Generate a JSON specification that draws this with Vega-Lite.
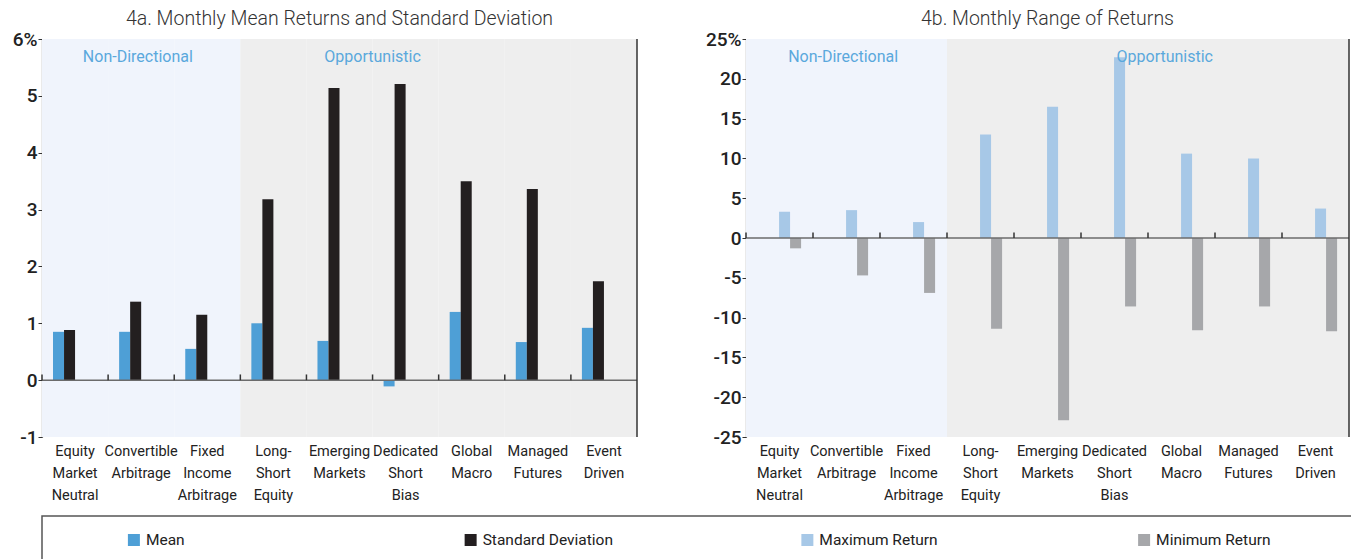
{
  "$schema": "https://vega.github.io/schema/vega-lite/v6.json",
  "padding": {"left": 12, "top": 8, "right": 0, "bottom": 0},
  "spacing": 13,
  "config": {
    "view": {"stroke": null},
    "font": "Roboto",
    "axis": {"labelFont": "Roboto", "labelColor": "#222", "title": null, "grid": false, "labelOverlap": false, "labelFlush": false},
    "title": {"font": "Roboto", "fontWeight": 300, "fontSize": 19.5, "color": "#333", "offset": 1}
  },
  "datasets": {
    "cats": [
      {"cat": "Equity Market Neutral", "region": "Non-Directional"},
      {"cat": "Convertible Arbitrage", "region": "Non-Directional"},
      {"cat": "Fixed Income Arbitrage", "region": "Non-Directional"},
      {"cat": "Long-Short Equity", "region": "Opportunistic"},
      {"cat": "Emerging Markets", "region": "Opportunistic"},
      {"cat": "Dedicated Short Bias", "region": "Opportunistic"},
      {"cat": "Global Macro", "region": "Opportunistic"},
      {"cat": "Managed Futures", "region": "Opportunistic"},
      {"cat": "Event Driven", "region": "Opportunistic"}
    ],
    "a": [
      {"cat": "Equity Market Neutral", "series": "Mean", "value": 0.85},
      {"cat": "Convertible Arbitrage", "series": "Mean", "value": 0.85},
      {"cat": "Fixed Income Arbitrage", "series": "Mean", "value": 0.55},
      {"cat": "Long-Short Equity", "series": "Mean", "value": 1.0},
      {"cat": "Emerging Markets", "series": "Mean", "value": 0.69},
      {"cat": "Dedicated Short Bias", "series": "Mean", "value": -0.11},
      {"cat": "Global Macro", "series": "Mean", "value": 1.2},
      {"cat": "Managed Futures", "series": "Mean", "value": 0.67},
      {"cat": "Event Driven", "series": "Mean", "value": 0.92},
      {"cat": "Equity Market Neutral", "series": "Standard Deviation", "value": 0.88},
      {"cat": "Convertible Arbitrage", "series": "Standard Deviation", "value": 1.38},
      {"cat": "Fixed Income Arbitrage", "series": "Standard Deviation", "value": 1.15},
      {"cat": "Long-Short Equity", "series": "Standard Deviation", "value": 3.18},
      {"cat": "Emerging Markets", "series": "Standard Deviation", "value": 5.14},
      {"cat": "Dedicated Short Bias", "series": "Standard Deviation", "value": 5.21},
      {"cat": "Global Macro", "series": "Standard Deviation", "value": 3.5},
      {"cat": "Managed Futures", "series": "Standard Deviation", "value": 3.36},
      {"cat": "Event Driven", "series": "Standard Deviation", "value": 1.74}
    ],
    "b": [
      {"cat": "Equity Market Neutral", "series": "Maximum Return", "value": 3.3},
      {"cat": "Convertible Arbitrage", "series": "Maximum Return", "value": 3.5},
      {"cat": "Fixed Income Arbitrage", "series": "Maximum Return", "value": 2.0},
      {"cat": "Long-Short Equity", "series": "Maximum Return", "value": 13.0},
      {"cat": "Emerging Markets", "series": "Maximum Return", "value": 16.5},
      {"cat": "Dedicated Short Bias", "series": "Maximum Return", "value": 22.7},
      {"cat": "Global Macro", "series": "Maximum Return", "value": 10.6},
      {"cat": "Managed Futures", "series": "Maximum Return", "value": 10.0},
      {"cat": "Event Driven", "series": "Maximum Return", "value": 3.7},
      {"cat": "Equity Market Neutral", "series": "Minimum Return", "value": -1.3},
      {"cat": "Convertible Arbitrage", "series": "Minimum Return", "value": -4.7},
      {"cat": "Fixed Income Arbitrage", "series": "Minimum Return", "value": -6.9},
      {"cat": "Long-Short Equity", "series": "Minimum Return", "value": -11.4},
      {"cat": "Emerging Markets", "series": "Minimum Return", "value": -22.9},
      {"cat": "Dedicated Short Bias", "series": "Minimum Return", "value": -8.6},
      {"cat": "Global Macro", "series": "Minimum Return", "value": -11.6},
      {"cat": "Managed Futures", "series": "Minimum Return", "value": -8.6},
      {"cat": "Event Driven", "series": "Minimum Return", "value": -11.7}
    ],
    "legend": [
      {"series": "Mean"},
      {"series": "Standard Deviation"},
      {"series": "Maximum Return"},
      {"series": "Minimum Return"}
    ]
  },
  "vconcat": [
    {
      "hconcat": [
        {
          "title": "4a. Monthly Mean Returns and Standard Deviation",
          "width": 595,
          "height": 398,
          "resolve": {"scale": {"color": "independent"}},
          "encoding": {
            "x": {"field": "cat", "type": "nominal", "sort": null,
              "scale": {"domain": ["Equity Market Neutral","Convertible Arbitrage","Fixed Income Arbitrage","Long-Short Equity","Emerging Markets","Dedicated Short Bias","Global Macro","Managed Futures","Event Driven"], "paddingInner": 0, "paddingOuter": 0},
              "axis": {"labelAngle": 0, "ticks": false, "domain": false, "labelPadding": 7, "labelFontSize": 14.5, "labelLineHeight": 22, "labelBaseline": "top", "labelExpr": "split(replace(datum.label, 'Long-Short', 'Long- Short'), ' ')"}}
          },
          "layer": [
            {
              "data": {"name": "cats"},
              "mark": {"type": "bar", "width": {"band": 1}},
              "encoding": {
                "y": {"datum": 6, "type": "quantitative", "scale": {"domain": [-1, 6], "nice": false},
                  "axis": {"values": [-1, 0, 1, 2, 3, 4, 5, 6], "tickCount": 20, "labelExpr": "datum.value == 6 ? '6%' : '' + datum.value", "labelOverlap": false, "labelFlush": false, "tickSize": 4, "tickColor": "#333", "domainColor": "#333", "domainWidth": 1.2, "labelFontSize": 19, "labelFontWeight": 500, "labelPadding": 1}},
                "y2": {"datum": -1},
                "color": {"field": "region", "type": "nominal", "scale": {"domain": ["Non-Directional", "Opportunistic"], "range": ["#f0f4fc", "#eeeeee"]}, "legend": null}
              }
            },
            {
              "data": {"name": "a"},
              "mark": {"type": "bar"},
              "encoding": {
                "xOffset": {"field": "series", "type": "nominal", "scale": {"domain": ["Mean", "Standard Deviation"], "paddingInner": 0, "paddingOuter": 2}},
                "y": {"field": "value", "type": "quantitative"},
                "color": {"field": "series", "type": "nominal", "scale": {"domain": ["Mean", "Standard Deviation"], "range": ["#4e9fd6", "#231f20"]}, "legend": null}
              }
            },
            {
              "data": {"values": [{}]},
              "mark": {"type": "rule", "color": "#6b6b6b", "strokeWidth": 1.5},
              "encoding": {"x": null, "y": {"datum": 0, "type": "quantitative"}}
            },
            {
              "data": {"name": "cats"},
              "mark": {"type": "rule", "color": "#333", "strokeWidth": 1.5},
              "encoding": {
                "x": {"field": "cat", "type": "nominal", "sort": null, "bandPosition": 0},
                "y": {"datum": 0, "type": "quantitative"},
                "y2": {"datum": 0.1}
              }
            },
            {
              "data": {"name": "cats"},
              "transform": [{"filter": "datum.cat == 'Event Driven'"}],
              "mark": {"type": "rule", "color": "#333", "strokeWidth": 1.5},
              "encoding": {
                "x": {"field": "cat", "type": "nominal", "sort": null, "bandPosition": 1},
                "y": {"datum": 6, "type": "quantitative"},
                "y2": {"datum": -1}
              }
            },
            {
              "data": {"values": [{"label": "Non-Directional", "cat": "Convertible Arbitrage"}]},
              "mark": {"type": "text", "color": "#5aa8dc", "fontSize": 16, "dy": 18, "baseline": "middle"},
              "encoding": {
                "x": {"field": "cat", "type": "nominal", "sort": null, "bandPosition": 0.45},
                "y": {"datum": 6, "type": "quantitative"},
                "text": {"field": "label"}
              }
            },
            {
              "data": {"values": [{"label": "Opportunistic", "cat": "Dedicated Short Bias"}]},
              "mark": {"type": "text", "color": "#5aa8dc", "fontSize": 16, "dy": 18, "baseline": "middle"},
              "encoding": {
                "x": {"field": "cat", "type": "nominal", "sort": null, "bandPosition": 0},
                "y": {"datum": 6, "type": "quantitative"},
                "text": {"field": "label"}
              }
            }
          ]
        },
        {
          "title": "4b. Monthly Range of Returns",
          "width": 603,
          "height": 398,
          "resolve": {"scale": {"color": "independent"}},
          "encoding": {
            "x": {"field": "cat", "type": "nominal", "sort": null,
              "scale": {"domain": ["Equity Market Neutral","Convertible Arbitrage","Fixed Income Arbitrage","Long-Short Equity","Emerging Markets","Dedicated Short Bias","Global Macro","Managed Futures","Event Driven"], "paddingInner": 0, "paddingOuter": 0},
              "axis": {"labelAngle": 0, "ticks": false, "domain": false, "labelPadding": 7, "labelFontSize": 14.5, "labelLineHeight": 22, "labelBaseline": "top", "labelExpr": "split(replace(datum.label, 'Long-Short', 'Long- Short'), ' ')"}}
          },
          "layer": [
            {
              "data": {"name": "cats"},
              "mark": {"type": "bar", "width": {"band": 1}},
              "encoding": {
                "y": {"datum": 25, "type": "quantitative", "scale": {"domain": [-25, 25], "nice": false},
                  "axis": {"values": [-25, -20, -15, -10, -5, 0, 5, 10, 15, 20, 25], "tickCount": 20, "labelExpr": "datum.value == 25 ? '25%' : '' + datum.value", "labelOverlap": false, "labelFlush": false, "tickSize": 4, "tickColor": "#333", "domainColor": "#333", "domainWidth": 1.2, "labelFontSize": 19, "labelFontWeight": 500, "labelPadding": 1}},
                "y2": {"datum": -25},
                "color": {"field": "region", "type": "nominal", "scale": {"domain": ["Non-Directional", "Opportunistic"], "range": ["#f0f4fc", "#eeeeee"]}, "legend": null}
              }
            },
            {
              "data": {"name": "b"},
              "mark": {"type": "bar"},
              "encoding": {
                "xOffset": {"field": "series", "type": "nominal", "scale": {"domain": ["Maximum Return", "Minimum Return"], "paddingInner": 0, "paddingOuter": 2}},
                "y": {"field": "value", "type": "quantitative"},
                "color": {"field": "series", "type": "nominal", "scale": {"domain": ["Maximum Return", "Minimum Return"], "range": ["#a7c8e7", "#a6a7aa"]}, "legend": null}
              }
            },
            {
              "data": {"values": [{}]},
              "mark": {"type": "rule", "color": "#6b6b6b", "strokeWidth": 1.5},
              "encoding": {"x": null, "y": {"datum": 0, "type": "quantitative"}}
            },
            {
              "data": {"name": "cats"},
              "mark": {"type": "rule", "color": "#333", "strokeWidth": 1.5},
              "encoding": {
                "x": {"field": "cat", "type": "nominal", "sort": null, "bandPosition": 0},
                "y": {"datum": 0, "type": "quantitative"},
                "y2": {"datum": 0.7}
              }
            },
            {
              "data": {"name": "cats"},
              "transform": [{"filter": "datum.cat == 'Event Driven'"}],
              "mark": {"type": "rule", "color": "#333", "strokeWidth": 1.5},
              "encoding": {
                "x": {"field": "cat", "type": "nominal", "sort": null, "bandPosition": 1},
                "y": {"datum": 25, "type": "quantitative"},
                "y2": {"datum": -25}
              }
            },
            {
              "data": {"values": [{"label": "Non-Directional", "cat": "Convertible Arbitrage"}]},
              "mark": {"type": "text", "color": "#5aa8dc", "fontSize": 16, "dy": 18, "baseline": "middle"},
              "encoding": {
                "x": {"field": "cat", "type": "nominal", "sort": null, "bandPosition": 0.45},
                "y": {"datum": 25, "type": "quantitative"},
                "text": {"field": "label"}
              }
            },
            {
              "data": {"values": [{"label": "Opportunistic", "cat": "Global Macro"}]},
              "mark": {"type": "text", "color": "#5aa8dc", "fontSize": 16, "dy": 18, "baseline": "middle"},
              "encoding": {
                "x": {"field": "cat", "type": "nominal", "sort": null, "bandPosition": 0.25},
                "y": {"datum": 25, "type": "quantitative"},
                "text": {"field": "label"}
              }
            }
          ]
        }
      ],
      "bounds": "flush",
      "spacing": 109
    },
    {
      "width": 1320,
      "height": 48,
      "view": {"stroke": "#555", "strokeWidth": 1.5},
      "data": {"name": "legend"},
      "encoding": {
        "x": {"field": "series", "type": "nominal", "sort": null, "scale": {"domain": ["Mean", "Standard Deviation", "Maximum Return", "Minimum Return"], "padding": 0.46}, "axis": null},
        "y": {"datum": 0, "type": "quantitative", "scale": {"domain": [-1, 1]},
          "axis": {"values": [0], "labels": false, "ticks": false, "domain": false, "minExtent": 23, "maxExtent": 23}}
      },
      "layer": [
        {
          "mark": {"type": "point", "filled": true, "opacity": 1, "size": 144, "shape": "M -11.5 -1 L -9.5 -1 L -9.5 1 L -11.5 1 Z"},
          "encoding": {
            "color": {"field": "series", "type": "nominal", "scale": {"domain": ["Mean", "Standard Deviation", "Maximum Return", "Minimum Return"], "range": ["#4e9fd6", "#231f20", "#a7c8e7", "#a6a7aa"]}, "legend": null}
          }
        },
        {
          "mark": {"type": "text", "align": "left", "baseline": "middle", "dx": -51, "fontSize": 15.5, "color": "#222"},
          "encoding": {
            "text": {"field": "series"}
          }
        }
      ]
    }
  ]
}
